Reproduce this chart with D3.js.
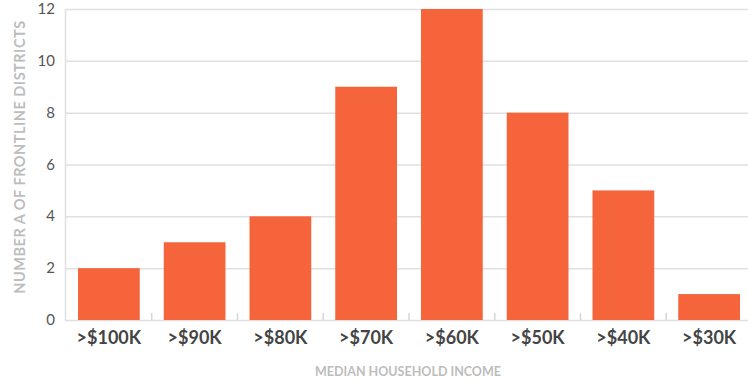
<!DOCTYPE html>
<html>
<head>
<meta charset="utf-8">
<title>Frontline districts by income</title>
<script src="https://cdn.jsdelivr.net/npm/d3@7"></script>
<style>
  body { margin: 0; background: #fff; }
  text { font-family: Lato, "Open Sans", sans-serif; }
</style>
</head>
<body>
<script>
var categories = [">$100K", ">$90K", ">$80K", ">$70K", ">$60K", ">$50K", ">$40K", ">$30K"];
var districts = [2, 3, 4, 9, 12, 8, 5, 1];
var yTicks = [0, 2, 4, 6, 8, 10, 12];

var W = 748, H = 381;
var plotLeft = 66, plotTop = 9, plotBottom = 320;

var svg = d3.select("body").append("svg")
  .attr("width", W)
  .attr("height", H);

var x = d3.scaleBand()
  .domain(categories)
  .range([plotLeft, plotLeft + 8 * 85.75])
  .paddingInner(0.28)
  .paddingOuter(0.14);

var y = d3.scaleLinear()
  .domain([0, 12])
  .range([plotBottom, plotTop]);

// gridlines
svg.selectAll("line.grid")
  .data(yTicks)
  .enter()
    .append("line")
    .attr("x1", plotLeft)
    .attr("x2", W)
    .attr("y1", function(d){ return y(d) + 0.5; })
    .attr("y2", function(d){ return y(d) + 0.5; })
    .attr("stroke", "#e0e0e0")
    .attr("stroke-width", 1.5);

// y axis line
svg.append("line")
  .attr("x1", plotLeft - 0.5).attr("x2", plotLeft - 0.5)
  .attr("y1", plotTop).attr("y2", plotBottom + 1)
  .attr("stroke", "#e0e0e0")
  .attr("stroke-width", 1.5);

// y tick labels
svg.selectAll("text.ytick")
  .data(yTicks)
  .enter()
    .append("text")
    .attr("x", 55)
    .attr("y", function(d){ return y(d) + 5; })
    .attr("text-anchor", "end")
    .attr("font-size", 15)
    .attr("fill", "#555")
    .text(function(d){ return d; });

// category separator ticks
svg.selectAll("line.sep")
  .data(categories.slice(1))
  .enter()
    .append("line")
    .attr("x1", function(d){ return x(d) - x.step() * 0.14; })
    .attr("x2", function(d){ return x(d) - x.step() * 0.14; })
    .attr("y1", plotBottom - 7)
    .attr("y2", plotBottom)
    .attr("stroke", "#d6d6d6")
    .attr("stroke-width", 1.5);

// bars
svg.selectAll("rect.bar")
  .data(districts)
  .enter()
    .append("rect")
    .attr("x", function(d, i){ return x(categories[i]); })
    .attr("width", x.bandwidth())
    .attr("y", function(d){ return y(d); })
    .attr("height", function(d){ return plotBottom - y(d); })
    .attr("fill", "#f5643b");

// x labels
svg.selectAll("text.xlabel")
  .data(categories)
  .enter()
    .append("text")
    .attr("x", function(d){ return x(d) + x.bandwidth() / 2; })
    .attr("y", 344)
    .attr("text-anchor", "middle")
    .attr("font-size", 18)
    .attr("font-weight", "bold")
    .attr("fill", "#444")
    .text(function(d){ return d; });

// axis titles
svg.append("text")
  .attr("x", 408)
  .attr("y", 376)
  .attr("text-anchor", "middle")
  .attr("font-size", 12.5)
  .attr("font-weight", "bold")
  .attr("fill", "#bdbdbd")
  .text("MEDIAN HOUSEHOLD INCOME");

svg.append("text")
  .attr("transform", "translate(25,157) rotate(-90)")
  .attr("text-anchor", "middle")
  .attr("font-size", 14.5)
  .attr("font-weight", "bold")
  .attr("letter-spacing", 0.5)
  .attr("fill", "#bdbdbd")
  .text("NUMBER A OF FRONTLINE DISTRICTS");
</script>
</body>
</html>
